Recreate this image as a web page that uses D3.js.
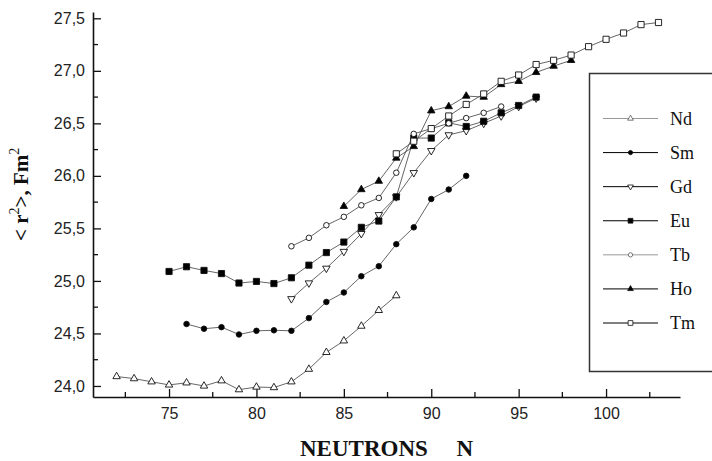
<!DOCTYPE html>
<html>
<head>
<meta charset="utf-8">
<script src="https://cdn.jsdelivr.net/npm/d3@7"></script>
<style>
body { margin: 0; background: #fff; }
svg { display: block; }
</style>
</head>
<body>
<div id="chart"></div>
<script>
// isotope shifts, <r2> in Fm^2 vs neutron number
var ndN = [72,73,74,75,76,77,78,79,80,81,82,83,84,85,86,87,88];
var ndR = [24.09,24.07,24.04,24.01,24.03,24.00,24.05,23.965,23.99,23.985,24.04,24.16,24.32,24.43,24.57,24.72,24.86];
var smN = [76,77,78,79,80,81,82,83,84,85,86,87,88,89,90,91,92];
var smR = [24.59,24.545,24.56,24.49,24.525,24.53,24.525,24.646,24.80,24.89,25.045,25.14,25.35,25.51,25.78,25.87,26.00];
var gdN = [82,83,84,85,86,87,88,89,90,91,92,93,94,95,96];
var gdR = [24.83,24.98,25.12,25.28,25.45,25.63,25.80,26.03,26.24,26.39,26.43,26.50,26.57,26.66,26.74];
var euN = [75,76,77,78,79,80,81,82,83,84,85,86,87,88,89,90,91,92,93,94,95,96];
var euR = [25.09,25.135,25.10,25.07,24.98,24.995,24.975,25.03,25.15,25.27,25.37,25.51,25.57,25.80,26.36,26.36,26.505,26.47,26.52,26.60,26.67,26.75];
var tbN = [82,83,84,85,86,87,88,89,90,91,92,93,94];
var tbR = [25.33,25.41,25.53,25.61,25.72,25.79,26.03,26.40,26.45,26.50,26.55,26.60,26.66];
var hoN = [85,86,87,88,89,90,91,92,93,94,95,96,97,98];
var hoR = [25.71,25.87,25.95,26.17,26.28,26.62,26.66,26.76,26.75,26.87,26.90,26.985,27.045,27.10];
var tmN = [88,89,90,91,92,93,94,95,96,97,98,99,100,101,102,103];
var tmR = [26.21,26.33,26.45,26.57,26.68,26.78,26.90,26.96,27.06,27.10,27.15,27.23,27.30,27.36,27.44,27.46];

var xTicks = [75,80,85,90,95,100];
var xMinor = [72.5,77.5,82.5,87.5,92.5,97.5,102.5];
var yTicks = [24.0,24.5,25.0,25.5,26.0,26.5,27.0,27.5];
var yMinor = [24.25,24.75,25.25,25.75,26.25,26.75,27.25];

var series = [
  {name: "Nd", N: ndN, r: ndR, shape: "tri",  fill: "#fff", legLine: "#999"},
  {name: "Sm", N: smN, r: smR, shape: "circ", fill: "#000", legLine: "#000"},
  {name: "Gd", N: gdN, r: gdR, shape: "dtri", fill: "#fff", legLine: "#000"},
  {name: "Eu", N: euN, r: euR, shape: "sq",   fill: "#000", legLine: "#000"},
  {name: "Tb", N: tbN, r: tbR, shape: "circ", fill: "#fff", legLine: "#999"},
  {name: "Ho", N: hoN, r: hoR, shape: "tri",  fill: "#000", legLine: "#000"},
  {name: "Tm", N: tmN, r: tmR, shape: "sq",   fill: "#fff", legLine: "#000"}
];

var width = 712, height = 461;
var svg = d3.select("#chart").append("svg")
  .attr("width", width)
  .attr("height", height);

var x = d3.scaleLinear().domain([70.65, 104.23]).range([93, 680]);
var y = d3.scaleLinear().domain([23.895, 27.56]).range([397, 12]);

var comma = function(v) { return d3.format(".1f")(v).replace(".", ","); };

function symFor(shape, big) {
  var k = big ? 1 : 0.6;
  if (shape == "sq") return d3.symbol().type(d3.symbolSquare).size(38 * k)();
  if (shape == "circ") return d3.symbol().type(d3.symbolCircle).size(24 * k)();
  return d3.symbol().type(d3.symbolTriangle).size(24 * k)();
}

// axes
var yAxis = svg.append("g")
  .attr("transform", "translate(93,0)")
  .call(d3.axisLeft(y).tickValues(yTicks).tickSizeInner(-8).tickSizeOuter(0).tickPadding(8).tickFormat(comma));
var xAxis = svg.append("g")
  .attr("transform", "translate(0,397)")
  .call(d3.axisBottom(x).tickValues(xTicks).tickSizeInner(-8).tickSizeOuter(0).tickPadding(8).tickFormat(d3.format("d")));

[yAxis, xAxis].forEach(function(a) {
  a.select(".domain").attr("stroke", "#111").attr("stroke-width", 1.6);
  a.selectAll(".tick line").attr("stroke", "#111").attr("stroke-width", 1.3);
  a.selectAll("text")
    .style("font-family", "'Liberation Sans', Arial, sans-serif")
    .style("font-size", "16px")
    .attr("fill", "#222");
});
xAxis.selectAll("text").attr("dy", "0.9em");

svg.append("g").selectAll("line")
  .data(yMinor).enter().append("line")
  .attr("x1", 93).attr("x2", 98)
  .attr("y1", function(d) { return y(d); })
  .attr("y2", function(d) { return y(d); })
  .attr("stroke", "#111").attr("stroke-width", 1.3);
svg.append("g").selectAll("line")
  .data(xMinor).enter().append("line")
  .attr("x1", function(d) { return x(d); })
  .attr("x2", function(d) { return x(d); })
  .attr("y1", 397).attr("y2", 392)
  .attr("stroke", "#111").attr("stroke-width", 1.3);

// series
var line = d3.line()
  .x(function(d) { return x(d[0]); })
  .y(function(d) { return y(d[1]); });

series.forEach(function(s) {
  var pts = s.N.map(function(n, i) { return [n, s.r[i]]; });
  svg.append("path")
    .datum(pts)
    .attr("d", line)
    .attr("fill", "none")
    .attr("stroke", "#555")
    .attr("stroke-width", 0.9);
  svg.append("g").selectAll("path")
    .data(pts).enter().append("path")
    .attr("d", symFor(s.shape, true))
    .attr("transform", function(d) {
      return "translate(" + x(d[0]) + "," + y(d[1]) + ")" + (s.shape == "dtri" ? " rotate(180)" : "");
    })
    .attr("fill", s.fill)
    .attr("stroke", "#111")
    .attr("stroke-width", 0.9);
});

// legend
var leg = svg.append("g");
leg.append("rect")
  .attr("x", 589.5).attr("y", 73.5)
  .attr("width", 140).attr("height", 298)
  .attr("fill", "#fff")
  .attr("stroke", "#333")
  .attr("stroke-width", 1.5);

var legY = d3.scaleLinear().domain([0, 6]).range([118.5, 323]);
series.forEach(function(s, i) {
  var g = leg.append("g").attr("transform", "translate(0," + legY(i) + ")");
  g.append("line")
    .attr("x1", 603).attr("x2", 658)
    .attr("stroke", s.legLine).attr("stroke-width", 1);
  g.append("path")
    .attr("d", symFor(s.shape, false))
    .attr("transform", "translate(630.5,0)" + (s.shape == "dtri" ? " rotate(180)" : ""))
    .attr("fill", s.fill)
    .attr("stroke", s.legLine == "#999" ? "#555" : "#111")
    .attr("stroke-width", 0.8);
  g.append("text")
    .attr("x", 670).attr("y", 6)
    .style("font-family", "'Liberation Serif', 'Times New Roman', serif")
    .style("font-size", "18px")
    .attr("fill", "#111")
    .text(s.name);
});

// axis titles
svg.append("text")
  .attr("x", 300).attr("y", 456)
  .style("font-family", "'Liberation Serif', 'Times New Roman', serif")
  .style("font-size", "23px")
  .style("font-weight", "bold")
  .attr("fill", "#111")
  .attr("xml:space", "preserve")
  .text("NEUTRONS     N");

var ylab = svg.append("text")
  .attr("transform", "translate(28,241) rotate(-90)")
  .style("font-family", "'Liberation Serif', 'Times New Roman', serif")
  .style("font-size", "21px")
  .style("font-weight", "bold")
  .attr("fill", "#111");
ylab.append("tspan").text("< r");
ylab.append("tspan").attr("dy", -9).style("font-size", "14px").style("font-weight", "normal").text("2");
ylab.append("tspan").attr("dy", 9).text(">, Fm");
ylab.append("tspan").attr("dy", -9).style("font-size", "14px").style("font-weight", "normal").text("2");
</script>
</body>
</html>
